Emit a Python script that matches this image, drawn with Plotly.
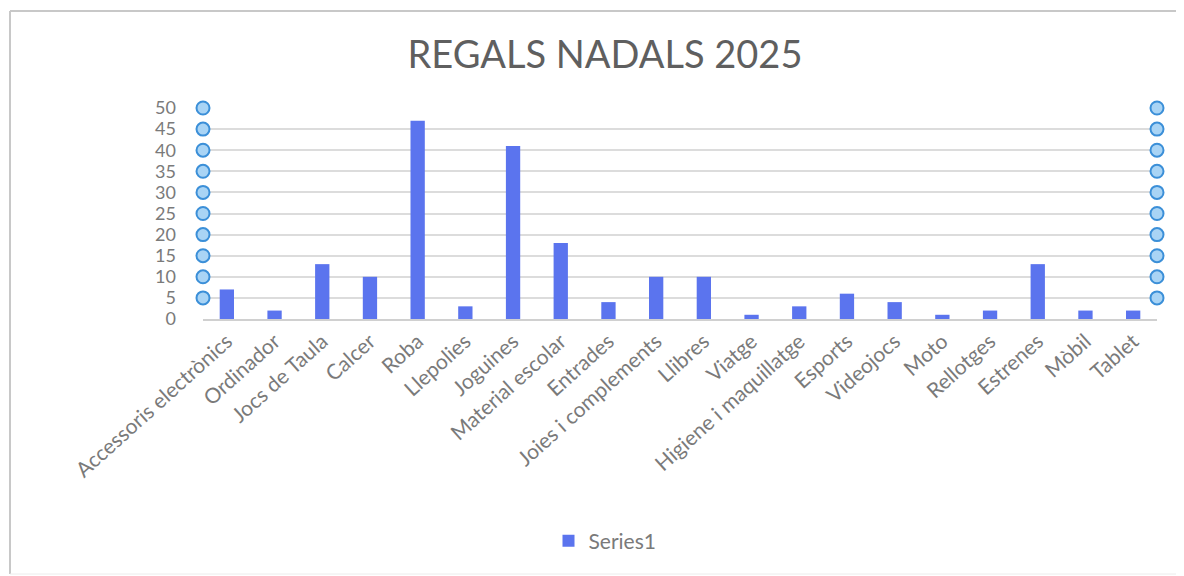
import plotly.graph_objects as go

categories = ["Accessoris electrònics", "Ordinador", "Jocs de Taula", "Calcer", "Roba",
              "Llepolies", "Joguines", "Material escolar", "Entrades", "Joies i complements",
              "Llibres", "Viatge", "Higiene i maquillatge", "Esports", "Videojocs",
              "Moto", "Rellotges", "Estrenes", "Mòbil", "Tablet"]
values = [7, 2, 13, 10, 47, 3, 41, 18, 4, 10, 10, 1, 3, 6, 4, 1, 2, 13, 2, 2]
handle_levels = [5, 10, 15, 20, 25, 30, 35, 40, 45, 50]
y_ticks = [0, 5, 10, 15, 20, 25, 30, 35, 40, 45, 50]

OFF = 8  # page body margin
W, H = 1184 - OFF, 576 - OFF
# target page coordinates of plot area
PL, PR, PT, PB = 203, 1157, 108, 319
L, T = PL - OFF, PT - OFF
R = W - (PR - OFF)
B = H - (PB - OFF)
pw, ph = PR - PL, PB - PT


def px(xp):
    return (xp - PL) / pw


def py(yp):
    return (PB - yp) / ph


fig = go.Figure()
fig.add_trace(go.Bar(x=list(range(len(categories))), y=values, name="Series1",
                     marker=dict(color="#5b74ee", line=dict(width=0)), width=0.3))
n = len(categories)
for xe in (-0.5, n - 0.5):
    fig.add_trace(go.Scatter(x=[xe] * len(handle_levels), y=handle_levels, mode="markers",
                             showlegend=False, cliponaxis=False, hoverinfo="skip",
                             marker=dict(symbol="circle", size=13, color="#a9d4f5",
                                         line=dict(color="#3b8fd8", width=2))))

fig.update_layout(
    width=W, height=H,
    margin=dict(l=L, r=R, t=T, b=B),
    paper_bgcolor="white", plot_bgcolor="white",
    font=dict(family="Lato, Open Sans, sans-serif", color="#7a7a7a"),
    title=dict(text="REGALS NADALS 2025", x=(605 - OFF) / W, xanchor="center",
               y=1 - (55 - OFF) / H, yanchor="middle",
               font=dict(size=38, color="#5f5f5f", family="Lato, sans-serif")),
    showlegend=True,
    legend=dict(orientation="h", x=px(605), xanchor="center",
                y=py(541), yanchor="middle",
                font=dict(size=21, color="#7a7a7a")),
    shapes=[
        dict(type="line", xref="paper", yref="paper",
             x0=px(10), x1=px(1190), y0=py(11), y1=py(11),
             line=dict(color="#c8c8c8", width=2)),
        dict(type="line", xref="paper", yref="paper",
             x0=px(10), x1=px(10), y0=py(11), y1=py(574),
             line=dict(color="#c8c8c8", width=2)),
        dict(type="line", xref="paper", yref="paper",
             x0=px(10), x1=px(1190), y0=py(574), y1=py(574),
             line=dict(color="#ececec", width=1)),
    ],
)
fig.update_xaxes(tickmode="array", tickvals=list(range(n)), ticktext=categories,
                 range=[-0.5, n - 0.5], tickangle=-42,
                 tickfont=dict(size=21, color="#7a7a7a"),
                 showline=True, linecolor="#d0d0d0", linewidth=2,
                 showgrid=False, ticks="", zeroline=False)
fig.update_yaxes(range=[0, 50], tickvals=y_ticks, showgrid=True, gridcolor="#dcdcdc",
                 gridwidth=2, zeroline=False, showline=False, ticks="",
                 ticklabelstandoff=26,
                 tickfont=dict(size=18, color="#7a7a7a"))

fig.write_html("out.html")
